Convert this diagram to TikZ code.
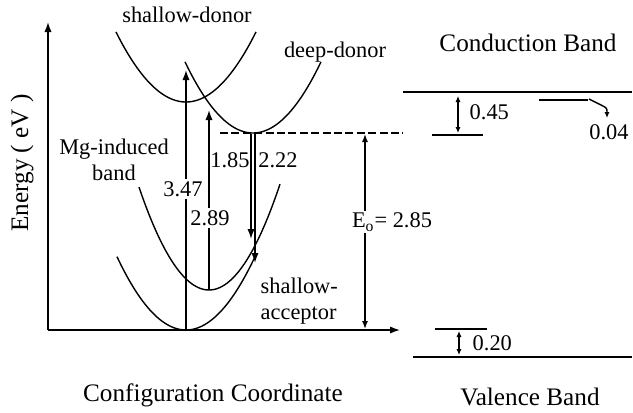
\documentclass[tikz,border=0pt]{standalone}
\usepackage{fontspec}
\setmainfont{Liberation Serif}
\usetikzlibrary{arrows.meta,positioning}

\begin{document}
\begin{tikzpicture}[x=0.5pt,y=-0.5pt,line width=0.7pt,
  tip/.style={-{Latex[length=5pt,width=3.6pt]}},
  dtip/.style={{Latex[length=3pt,width=2.6pt]}-{Latex[length=3pt,width=2.6pt]}},
  lbl/.style={font=\fontsize{11.2}{13.2}\selectfont,inner sep=1pt},
  ttl/.style={font=\fontsize{12.6}{15}\selectfont,inner sep=1pt},
  gap/.style={lbl,fill=white}]
  \useasboundingbox (0,0) rectangle (633,413);
  % axes
  \coordinate (O) at (48,330);
  \draw[tip] (O) -- (48,22); \draw[tip] (O) -- (400,330);
  % configuration curves
  \draw[domain=-70:70,samples=60,smooth,variable=\x] plot ({186+\x},{102-0.0143*\x*\x});
  \draw[domain=-68:68,samples=60,smooth,variable=\x] plot ({253+\x},{133-0.0154*\x*\x});
  \draw[domain=-70:71,samples=60,smooth,variable=\x] plot ({209+\x},{290-0.021*\x*\x});
  \draw[domain=-69:70,samples=60,smooth,variable=\x] plot ({186+\x},{330-0.0154*\x*\x});
  % transitions
  \draw[tip] (186,330) -- (186,70);
  \draw[tip] (209,290) -- (209,110);
  \draw[tip] (251,134) -- (251,239); \draw[tip] (255,134) -- (255,263);
  \draw[dashed,dash pattern=on 4pt off 1.7pt] (220,133) -- (403,133);
  \draw[{Latex[length=4pt,width=3pt]}-{Latex[length=4pt,width=3pt]}] (365,134) -- (365,329);
  \node[gap] (e347) at (183,189) {3.47};
  \node[gap] (e289) at (210,218) {2.89};
  \node[gap] (eo) at (392,222) {E\textsubscript{o}= 2.85};
  \node[lbl] (e185) at (230,160) {1.85};
  \node[lbl] (e222) at (278,160) {2.22};
  \node[lbl] (sd) at (187,15) {shallow-donor};
  \node[lbl] (dd) at (335,52) {deep-donor};
  \node[lbl,align=center] (mg) at (114,160) {Mg-induced\\band};
  \node[lbl,align=left,anchor=west] (sa) at (258,301) {shallow-\\acceptor};
  % band diagram
  \draw (403,92) -- (632,92); \draw (413,357) -- (632,357);
  \draw (432,135) -- (483,135); \draw (539,100) -- (588,100); \draw (435,329) -- (487,329);
  \draw[dtip] (458,96) -- (458,133); \draw[dtip] (459,331) -- (459,355);
  \draw[-{Latex[length=3pt,width=2.6pt]}] (589,99) -- (601,105) .. controls (607,108) .. (607,118);
  \node[lbl,anchor=west] (d045) at (467,112) {0.45};
  \node[lbl] (d004) at (609,132) {0.04};
  \node[lbl,anchor=west] (d020) at (470,343) {0.20};
  \node[ttl] (cb) at (528,43) {Conduction Band};
  \node[ttl] (vb) at (530,397) {Valence Band};
  \node[ttl] (cc) at (213,395) {Configuration Coordinate};
  \node[ttl,rotate=90] (en) at (22,163) {Energy ( eV )};
\end{tikzpicture}
\end{document}
